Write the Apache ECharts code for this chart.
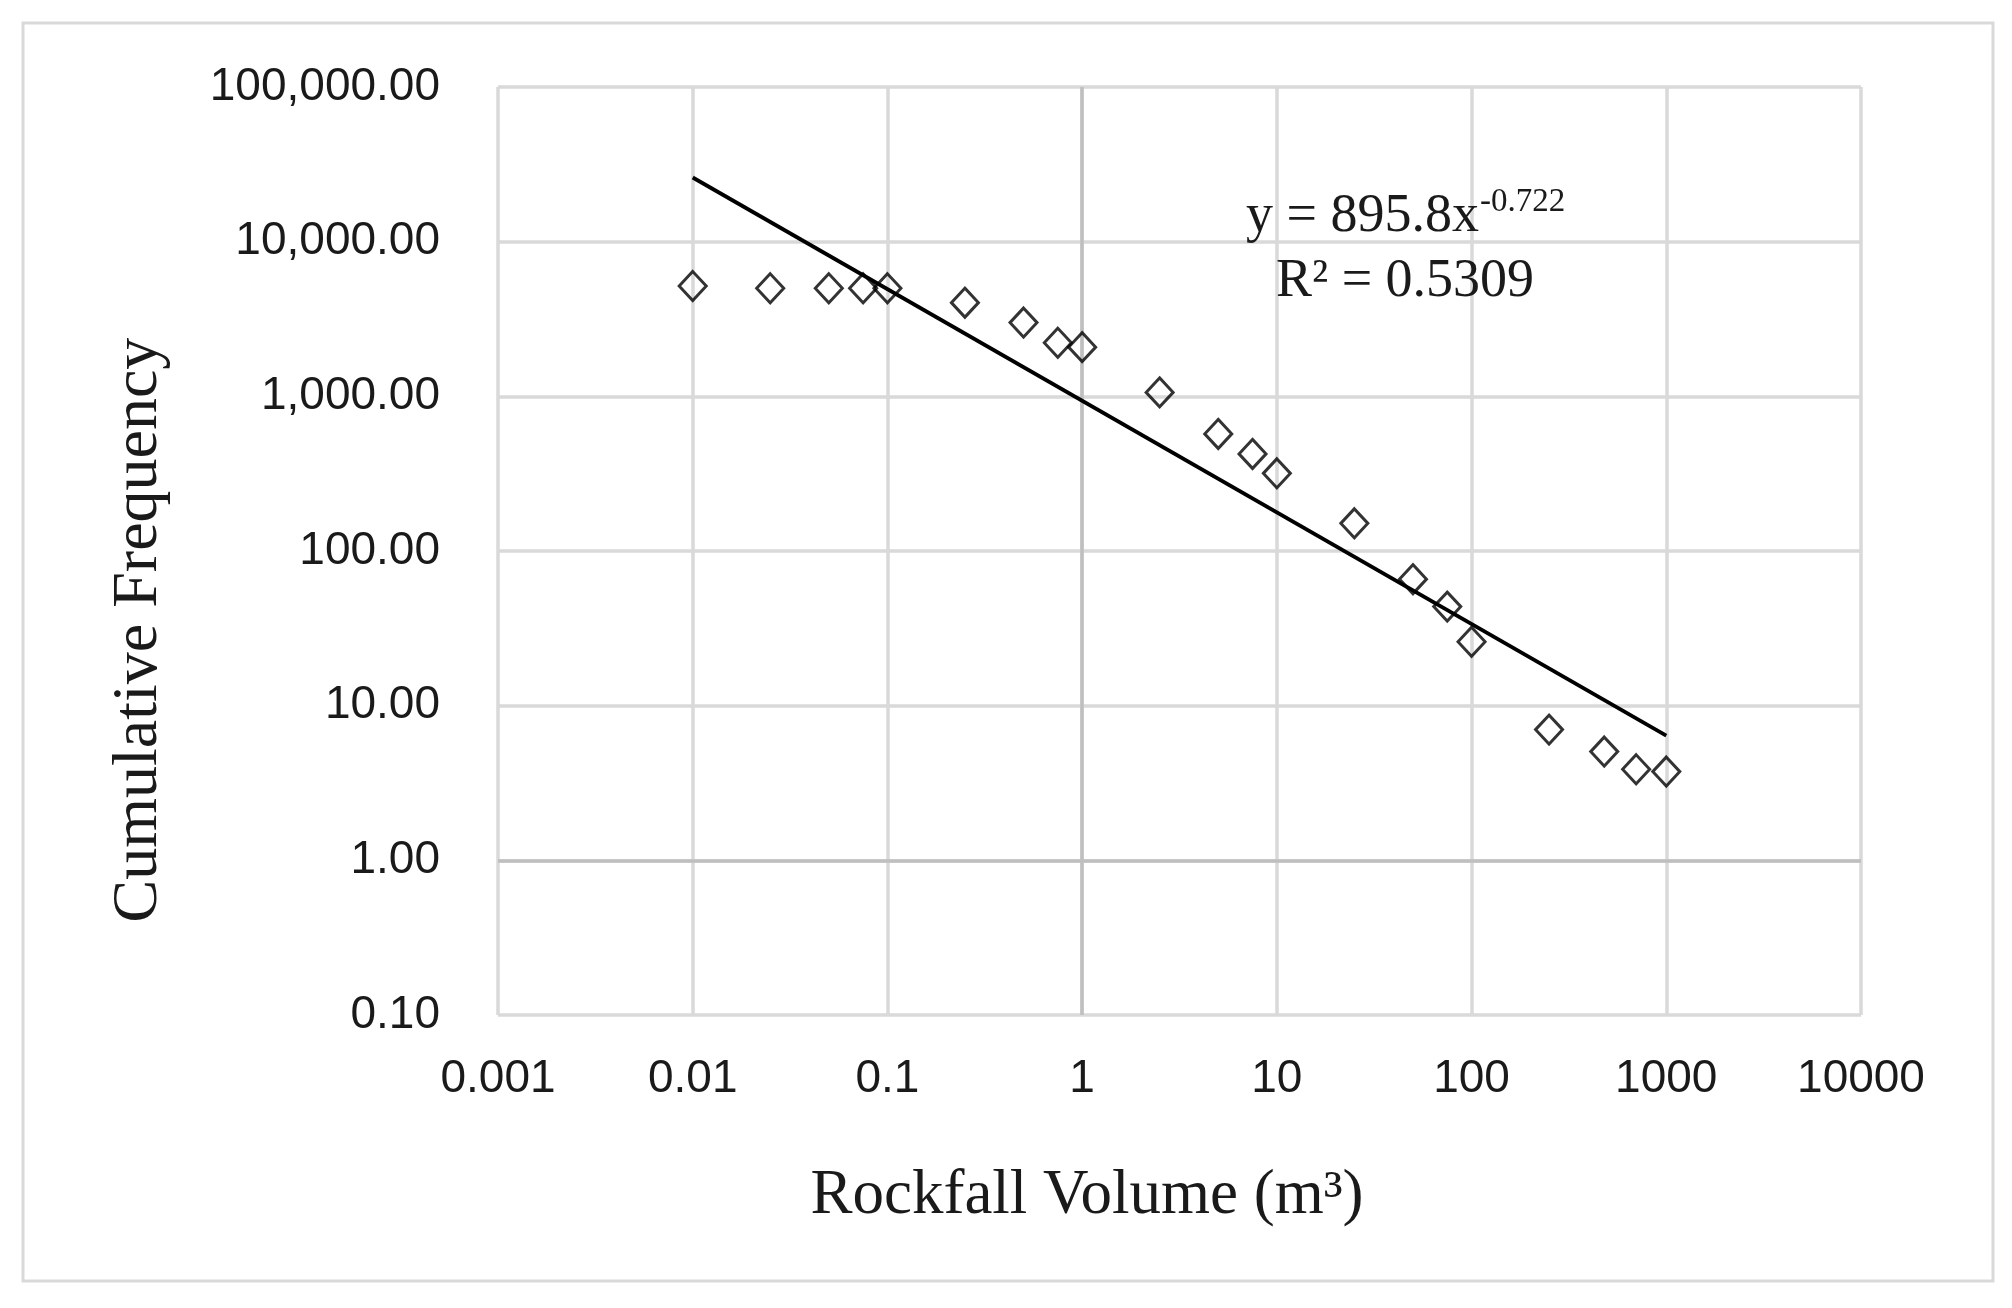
<!DOCTYPE html>
<html>
<head>
<meta charset="utf-8">
<script src="https://cdn.jsdelivr.net/npm/echarts@6/dist/echarts.min.js"></script>
<style>
html,body{margin:0;padding:0;background:#fff;}
#chart{width:2012px;height:1308px;}
</style>
</head>
<body>
<div id="chart"></div>
<script>
// Data
const volume = [0.01, 0.025, 0.05, 0.075, 0.1, 0.25, 0.5, 0.75, 1, 2.5, 5, 7.5, 10, 25, 50, 75, 100, 250, 480, 700, 1000];
const frequency = [5170, 5000, 5000, 5000, 5000, 4030, 3000, 2220, 2080, 1060, 571, 424, 318, 151, 65.7, 43.7, 25.9, 7.0, 5.05, 3.88, 3.75];
const trendX = [0.01, 1000];
const trendY = [26000, 6.4];
const xTickLabels = ['0.001', '0.01', '0.1', '1', '10', '100', '1000', '10000'];
const yTickLabels = ['0.10', '1.00', '10.00', '100.00', '1,000.00', '10,000.00', '100,000.00'];
const axisCrossX = 1;
const axisCrossY = 1;
const xTitle = 'Rockfall Volume (m³)';
const yTitle = 'Cumulative Frequency';
const eqMain = 'y = 895.8x';
const eqExp = '-0.722';
const r2Text = 'R² = 0.5309';

const chart = echarts.init(document.getElementById('chart'), null, {renderer: 'canvas'});

const points = volume.map((v, i) => [v, frequency[i]]);
const trend = trendX.map((v, i) => [v, trendY[i]]);

const gridColor = '#d9d9d9';
const darkGrid = '#bfbfbf';
const serif = '"Liberation Serif", "DejaVu Serif", serif';
const sans = '"Liberation Sans", Arial, sans-serif';

const option = {
  animation: false,
  backgroundColor: '#fff',
  grid: {left: 498, top: 87, right: 151, bottom: 293, containLabel: false},
  xAxis: {
    type: 'log', logBase: 10, min: 0.001, max: 10000, splitNumber: 7,
    axisLine: {show: false}, axisTick: {show: false},
    axisLabel: {
      margin: 41, color: '#1a1a1a', fontFamily: sans, fontSize: 46,
      formatter: (v, i) => xTickLabels[i] !== undefined ? xTickLabels[i] : ''
    },
    splitLine: {show: true, lineStyle: {color: gridColor, width: 3.5}},
    minorTick: {show: false}
  },
  yAxis: {
    type: 'log', logBase: 10, min: 0.1, max: 100000, splitNumber: 6,
    axisLine: {show: false}, axisTick: {show: false},
    axisLabel: {
      margin: 58, color: '#1a1a1a', fontFamily: sans, fontSize: 46,
      formatter: (v, i) => yTickLabels[i] !== undefined ? yTickLabels[i] : ''
    },
    splitLine: {show: true, lineStyle: {color: gridColor, width: 3.5}}
  },
  series: [
    {
      type: 'line', data: trend, showSymbol: false, symbol: 'none', z: 4,
      lineStyle: {color: '#000', width: 3.8}, silent: true,
      markLine: {
        silent: true, symbol: ['none', 'none'], label: {show: false},
        lineStyle: {color: darkGrid, width: 3.5, type: 'solid'},
        z: 1,
        data: [{xAxis: axisCrossX}, {yAxis: axisCrossY}]
      }
    },
    {
      type: 'scatter', data: points, symbol: 'diamond', symbolSize: [27, 29], z: 3,
      itemStyle: {color: 'rgba(0,0,0,0)', borderColor: '#000', borderWidth: 3}
    }
  ],
  graphic: [
    {
      type: 'rect', z: -10, silent: true,
      shape: {x: 23, y: 23, width: 1970, height: 1258},
      style: {fill: 'none', stroke: gridColor, lineWidth: 3}
    },
    {
      type: 'text', z: 10, silent: true, x: 1087, y: 1196,
      style: {text: xTitle, font: '63px ' + serif, fill: '#1a1a1a', align: 'center', verticalAlign: 'middle'}
    },
    {
      type: 'text', z: 10, silent: true, x: 139, y: 630, rotation: Math.PI / 2,
      style: {text: yTitle, font: '64px ' + serif, fill: '#1a1a1a', align: 'center', verticalAlign: 'middle'}
    },
    {
      type: 'text', z: 10, silent: true, x: 1479, y: 217,
      style: {text: eqMain, font: '54px ' + serif, fill: '#1a1a1a', align: 'right', verticalAlign: 'middle'}
    },
    {
      type: 'text', z: 10, silent: true, x: 1480, y: 202,
      style: {text: eqExp, font: '33px ' + serif, fill: '#1a1a1a', align: 'left', verticalAlign: 'middle'}
    },
    {
      type: 'text', z: 10, silent: true, x: 1405, y: 282,
      style: {text: r2Text, font: '54px ' + serif, fill: '#1a1a1a', align: 'center', verticalAlign: 'middle'}
    }
  ]
};
chart.setOption(option);
</script>
</body>
</html>
